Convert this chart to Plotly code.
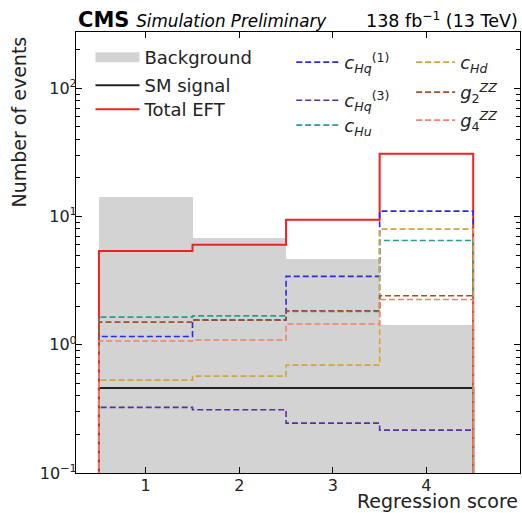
import plotly.graph_objects as go

# ---------------- data ----------------
bin_edges = [0.5, 1.5, 2.5, 3.5, 4.5]
background = [14.3, 6.8, 4.7, 1.43]
sm_signal = [0.46, 0.46, 0.46, 0.46]
total_eft = [5.37, 6.02, 9.42, 30.8]
c_hq1 = [1.16, 1.56, 3.41, 11.0]
c_hq3 = [0.325, 0.311, 0.245, 0.216]
c_hu = [1.64, 1.68, 1.82, 6.5]
c_hd = [0.53, 0.569, 0.693, 7.96]
g2_zz = [1.50, 1.55, 1.84, 2.41]
g4_zz = [1.07, 1.09, 1.45, 2.25]

y_ticks = [0.1, 1, 10, 100]
y_ticktext = ["10<sup>−1</sup>", "10<sup>0</sup>", "10<sup>1</sup>", "10<sup>2</sup>"]
x_ticks = [1, 2, 3, 4, 5]

FONT = "DejaVu Sans"
FLOOR = 1e-3  # below visible range: histogram steps drop to the axis


def step_xy(vals):
    xs = [bin_edges[0]] + bin_edges[:-1] + [bin_edges[-1], bin_edges[-1]]
    ys = [FLOOR] + list(vals) + [vals[-1], FLOOR]
    return xs, ys


centers = [(a + b) / 2 for a, b in zip(bin_edges[:-1], bin_edges[1:])]
widths = [b - a for a, b in zip(bin_edges[:-1], bin_edges[1:])]

COL1, COL2, COL3 = 0.0326, 0.4848, 0.7548
IW1, IW2, IW3 = 44, 43, 39
BG_COLOR = "#d3d3d3"

fig = go.Figure()
fig.add_trace(go.Bar(x=centers, y=background, width=widths, name="Background",
                     marker=dict(color=BG_COLOR, line=dict(width=0)),
                     legendgroup="bg", showlegend=False))
# legend proxy for the background (wide filled patch)
fig.add_trace(go.Scatter(x=[None], y=[None], mode="lines", name="Background",
                         line=dict(color=BG_COLOR, width=14), legendgroup="bg",
                         legend="legend", showlegend=True))

series = [
    ("SM signal", sm_signal, "#222222", "solid", 2, "legend2"),
    ("Total EFT", total_eft, "#ee2222", "solid", 2, "legend3"),
    ("<i>c</i><sub><i>Hq</i></sub><sup>(1)</sup>", c_hq1, "#2b2be6", "6px,3px", 1.6, "legend4"),
    ("<i>c</i><sub><i>Hq</i></sub><sup>(3)</sup>", c_hq3, "#5b2ea6", "6px,3px", 1.6, "legend5"),
    ("<i>c</i><sub><i>Hu</i></sub>", c_hu, "#2a9d8f", "6px,3px", 1.6, "legend6"),
    ("<i>c</i><sub><i>Hd</i></sub>", c_hd, "#d4a53a", "6px,3px", 1.6, "legend7"),
    ("<i>g</i><sub>2</sub><sup><i>ZZ</i></sup>", g2_zz, "#a0522d", "6px,3px", 1.6, "legend8"),
    ("<i>g</i><sub>4</sub><sup><i>ZZ</i></sup>", g4_zz, "#f4806e", "6px,3px", 1.6, "legend9"),
]
for name, vals, color, dash, w, lg in series:
    xs, ys = step_xy(vals)
    fig.add_trace(go.Scatter(x=xs, y=ys, mode="lines", name=name, line_shape="hv",
                             line=dict(color=color, dash=dash, width=w), legend=lg))

axis_common = dict(showline=True, linecolor="black", linewidth=1.2, mirror="allticks",
                   ticks="inside", ticklen=6, tickwidth=1, tickcolor="black",
                   showgrid=False, zeroline=False,
                   tickfont=dict(family=FONT, size=16, color="#222"))

fig.update_xaxes(range=[0.255, 5.0], tickvals=x_ticks, ticklabelstandoff=-2, **axis_common)
fig.update_yaxes(type="log", range=[-1, 2.438], tickvals=y_ticks, ticktext=y_ticktext,
                 ticklabelstandoff=-5,
                 minor=dict(ticks="inside", ticklen=3.5, tickcolor="black",
                            tickvals=[m * d for d in [0.1, 1, 10, 100] for m in range(2, 10)]),
                 **axis_common)


def leg(x, y, iw):
    return dict(x=x, y=y, xanchor="left", yanchor="middle", itemwidth=iw, visible=True,
                bgcolor="rgba(0,0,0,0)", font=dict(family=FONT, size=18, color="#222"))


fig.update_layout(
    width=522, height=513,
    margin=dict(l=75.5, r=2, t=31.5, b=40.3),
    plot_bgcolor="white", paper_bgcolor="white",
    bargap=0, showlegend=True,
    font=dict(family=FONT, color="#222"),
    legend=leg(COL1, 0.9422, IW1),
    legend2=leg(COL1, 0.8787, IW1),
    legend3=leg(COL1, 0.8243, IW1),
    legend4=leg(COL2, 0.9309, IW2),
    legend5=leg(COL2, 0.8447, IW2),
    legend6=leg(COL2, 0.7881, IW2),
    legend7=leg(COL3, 0.9309, IW3),
    legend8=leg(COL3, 0.8629, IW3),
    legend9=leg(COL3, 0.7994, IW3),
)

fig.add_annotation(xref="paper", yref="paper", x=0, y=1, xanchor="left", yanchor="bottom",
                   yshift=-2, showarrow=False,
                   text="<b>CMS</b> <span style='font-size:16.8px'><i>Simulation Preliminary</i></span>",
                   font=dict(family=FONT, size=21, color="black"))
fig.add_annotation(xref="paper", yref="paper", x=1, y=1, xanchor="right", yanchor="bottom",
                   yshift=-1, showarrow=False,
                   text="138 fb<sup>−1</sup> (13 TeV)",
                   font=dict(family=FONT, size=17.5, color="black"))
fig.add_annotation(xref="paper", yref="paper", x=1, y=0, xanchor="right", yanchor="top",
                   yshift=-15, showarrow=False, text="Regression score",
                   font=dict(family=FONT, size=19, color="#222"))
fig.add_annotation(xref="paper", yref="paper", x=0, y=1, xanchor="center", yanchor="top",
                   xshift=-58, yshift=-3, showarrow=False, text="Number of events", textangle=-90,
                   font=dict(family=FONT, size=19, color="#222"))

fig.write_html("out.html", config={"displayModeBar": False},
               post_script="document.body.style.margin='0';document.body.style.overflow='hidden';")
